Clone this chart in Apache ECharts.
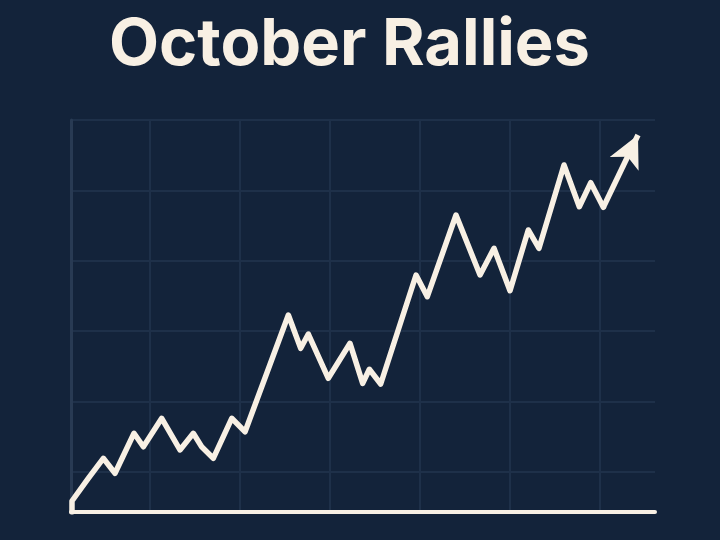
<!DOCTYPE html>
<html>
<head>
<meta charset="utf-8">
<script src="https://cdn.jsdelivr.net/npm/echarts@6/dist/echarts.min.js"></script>
<style>
html,body{margin:0;padding:0;background:#13233a;}
#c{width:720px;height:540px;}
</style>
</head>
<body>
<div id="c"></div>
<script>
// ---- data ----
const title = 'October Rallies';
// last point is the arrow tip
const days = [1.33, 1.33, 3.14, 4.81, 6.11, 8.22, 9.26, 11.30, 13.33, 14.81, 15.74, 17.03, 19.08, 20.56, 25.37, 26.74, 27.59, 29.81, 32.22, 33.63, 34.37, 35.63, 39.56, 40.81, 44.00, 46.67, 48.22, 50.00, 52.03, 53.22, 56.00, 57.70, 58.97, 60.37, 64.22];
const values = [4.32, 5.88, 9.10, 11.95, 9.82, 15.50, 13.59, 17.63, 13.13, 15.50, 13.59, 11.95, 17.63, 15.72, 32.30, 27.57, 29.60, 23.31, 28.28, 22.60, 24.59, 22.50, 37.98, 34.90, 46.51, 37.98, 41.78, 35.75, 44.38, 41.78, 53.61, 47.68, 51.09, 47.60, 57.87];
const xGridTicks = [10, 20, 30, 40, 50, 60];
const yGridTicks = [10, 20, 30, 40, 50, 60];
const xRange = [1.22, 66.11];
const yRange = [4.32, 60];

// ---- chart ----
const cream = '#f8f0e4';
const gridColor = '#1e3049';
const data = days.map((d, i) => [d, values[i]]);
const n = data.length;

const chart = echarts.init(document.getElementById('c'), null, {renderer: 'canvas'});
chart.setOption({
  backgroundColor: '#13233a',
  animation: false,
  title: {
    text: title,
    left: 104,
    top: 8,
    textStyle: {color: cream, fontFamily: 'Inter', fontWeight: 'bold', fontSize: 65}
  },
  grid: {left: 71, right: 65, top: 120, bottom: 28, containLabel: false},
  xAxis: {
    type: 'value', min: xRange[0], max: xRange[1],
    axisLine: {show: true, onZero: false, lineStyle: {color: cream, width: 4, cap: 'round'}},
    axisTick: {show: false, customValues: xGridTicks},
    axisLabel: {show: false},
    splitLine: {show: true, lineStyle: {color: gridColor, width: 2}}
  },
  yAxis: {
    type: 'value', min: yRange[0], max: yRange[1],
    axisLine: {show: true, onZero: false, lineStyle: {color: '#283a53', width: 3}},
    axisTick: {show: false, customValues: yGridTicks},
    axisLabel: {show: false},
    splitLine: {show: true, lineStyle: {color: gridColor, width: 2}}
  },
  series: [{
    type: 'line',
    data: data.slice(0, n - 1),
    symbol: 'none',
    z: 5,
    lineStyle: {color: cream, width: 5.5, cap: 'round', join: 'round'},
    markLine: {
      silent: true,
      symbol: ['none', 'arrow'],
      symbolSize: [24, 32],
      label: {show: false},
      lineStyle: {color: cream, width: 5.5, type: 'solid', cap: 'butt'},
      data: [[{coord: data[n - 2]}, {coord: data[n - 1]}]]
    }
  }]
});
</script>
</body>
</html>
